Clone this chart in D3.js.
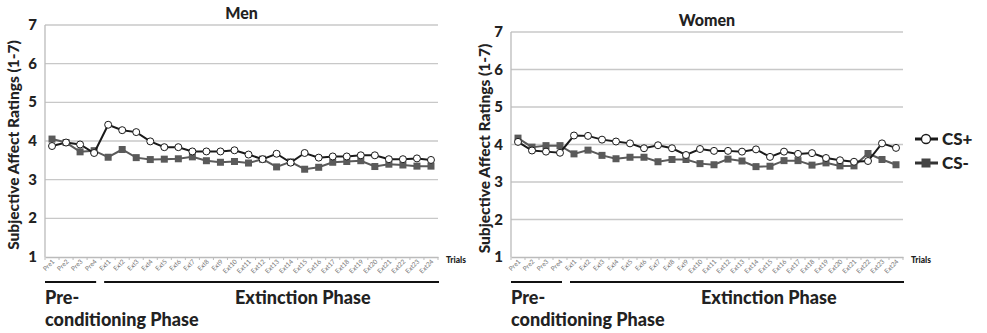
<!DOCTYPE html>
<html><head><meta charset="utf-8">
<script src="https://cdn.jsdelivr.net/npm/d3@7"></script>
<style>body{margin:0;background:#fff;} svg{display:block;} text{font-family:Lato,"Open Sans",sans-serif;}</style>
</head><body>
<svg id="chart" width="987" height="333"></svg>
<script>
const trials = ["Pre1","Pre2","Pre3","Pre4","Ext1","Ext2","Ext3","Ext4","Ext5","Ext6","Ext7","Ext8","Ext9","Ext10","Ext11","Ext12","Ext13","Ext14","Ext15","Ext16","Ext17","Ext18","Ext19","Ext20","Ext21","Ext22","Ext23","Ext24"];
const yTicks = [1,2,3,4,5,6,7];
const menCSplus  = [3.87,3.96,3.91,3.69,4.42,4.28,4.23,3.99,3.84,3.84,3.73,3.73,3.73,3.76,3.65,3.53,3.67,3.44,3.69,3.57,3.60,3.60,3.63,3.63,3.53,3.53,3.55,3.51];
const menCSminus = [4.05,3.96,3.72,3.75,3.58,3.78,3.57,3.52,3.53,3.54,3.59,3.49,3.45,3.47,3.43,3.53,3.33,3.46,3.27,3.32,3.45,3.47,3.49,3.34,3.40,3.38,3.35,3.35];
const womenCSplus  = [4.07,3.84,3.81,3.78,4.24,4.23,4.13,4.08,4.03,3.90,3.98,3.90,3.72,3.88,3.83,3.83,3.81,3.87,3.67,3.81,3.75,3.77,3.64,3.58,3.54,3.56,4.03,3.91];
const womenCSminus = [4.17,3.93,3.97,3.97,3.75,3.85,3.71,3.62,3.66,3.66,3.54,3.60,3.60,3.49,3.46,3.61,3.56,3.41,3.42,3.57,3.57,3.45,3.51,3.43,3.43,3.76,3.60,3.46];
const titles = ["Men","Women"];
const yLabel = "Subjective Affect Ratings (1-7)";
const legendLabels = ["CS+","CS-"];

const svg = d3.select("#chart");
svg.append("rect").attr("width",987).attr("height",333).attr("fill","#fff");

const panels = [
  {title:titles[0], x0:45, x1:438, yTop:25, yBot:257, plus:menCSplus, minus:menCSminus, ylabX:19, tickX:37},
  {title:titles[1], x0:511, x1:903, yTop:32, yBot:257, plus:womenCSplus, minus:womenCSminus, ylabX:490, tickX:503}
];

panels.forEach(p => {
  const g = svg.append("g");
  const x = d3.scaleBand().domain(trials).range([p.x0, p.x1]);
  const y = d3.scaleLinear().domain([1,7]).range([p.yBot, p.yTop]);
  const cx = d => x(d) + x.bandwidth()/2;

  g.selectAll(".grid").data(yTicks.slice(1)).join("line")
    .attr("x1",p.x0).attr("x2",p.x1).attr("y1",d=>y(d)).attr("y2",d=>y(d))
    .attr("stroke","#c8c8c8").attr("stroke-width",1.3);
  g.append("line").attr("x1",p.x0).attr("x2",p.x0).attr("y1",p.yTop).attr("y2",p.yBot)
    .attr("stroke","#bbb").attr("stroke-width",1.3);
  const xa = g.append("g").attr("transform",`translate(0,${p.yBot})`)
    .call(d3.axisBottom(x).tickSize(0).tickFormat(""));
  xa.select(".domain").attr("stroke","#bbb").attr("stroke-width",1.3);
  g.selectAll(".tk").data(trials.concat(["_end"])).join("line")
    .attr("x1",(d,i)=>p.x0 + i*x.step()).attr("x2",(d,i)=>p.x0 + i*x.step())
    .attr("y1",p.yBot).attr("y2",p.yBot+3).attr("stroke","#bbb").attr("stroke-width",1);
  g.selectAll(".xl").data(trials).join("text")
    .attr("transform",d=>`translate(${cx(d)+3},${p.yBot+5}) rotate(-45)`)
    .attr("text-anchor","end").attr("font-size",6.5).attr("fill","#777").text(d=>d);
  g.selectAll(".yl").data(yTicks).join("text")
    .attr("x",p.tickX).attr("y",d=>y(d)+5).attr("text-anchor","end")
    .attr("font-size",15).attr("font-weight",900).attr("fill","#222").text(d=>d);
  g.append("text").attr("transform",`translate(${p.ylabX},${(p.yTop+p.yBot)/2+4}) rotate(-90)`)
    .attr("text-anchor","middle").attr("font-size",15.5).attr("font-weight",900).attr("fill","#222").text(yLabel);
  g.append("text").attr("x",(p.x0+p.x1)/2).attr("y",p.yTop-6).attr("text-anchor","middle")
    .attr("font-size",16).attr("font-weight",900).attr("fill","#222").text(p.title);
  g.append("text").attr("x",p.x1+8).attr("y",p.yBot+6).attr("font-size",8.5).attr("font-weight",900).attr("fill","#222").text("Trials");

  const line = d3.line().x((d,i)=>cx(trials[i])).y(d=>y(d));
  g.append("path").datum(p.minus).attr("d",line).attr("fill","none").attr("stroke","#5a5a5a").attr("stroke-width",2);
  g.selectAll(".sq").data(p.minus).join("rect")
    .attr("x",(d,i)=>cx(trials[i])-3.5).attr("y",d=>y(d)-3.5).attr("width",7).attr("height",7).attr("fill","#5a5a5a");
  g.append("path").datum(p.plus).attr("d",line).attr("fill","none").attr("stroke","#1a1a1a").attr("stroke-width",2);
  g.selectAll(".ci").data(p.plus).join("circle")
    .attr("cx",(d,i)=>cx(trials[i])).attr("cy",d=>y(d)).attr("r",3.5)
    .attr("fill","#fff").attr("stroke","#1a1a1a").attr("stroke-width",1);

  const preEnd = p.x0 + 4*x.step();
  g.append("line").attr("x1",p.x0).attr("x2",preEnd-5).attr("y1",282).attr("y2",282).attr("stroke","#111").attr("stroke-width",2);
  g.append("line").attr("x1",preEnd+3).attr("x2",p.x1+1).attr("y1",282).attr("y2",282).attr("stroke","#111").attr("stroke-width",2);
  g.append("text").attr("x",p.x0).attr("y",304).attr("font-size",18).attr("font-weight",900).attr("fill","#222").text("Pre-");
  g.append("text").attr("x",p.x0).attr("y",326).attr("font-size",18).attr("font-weight",900).attr("fill","#222").text("conditioning Phase");
  g.append("text").attr("x",p.x0+190).attr("y",304).attr("font-size",18).attr("font-weight",900).attr("fill","#222").text("Extinction Phase");
});

const lg = svg.append("g");
lg.append("line").attr("x1",915).attr("x2",938).attr("y1",139).attr("y2",139).attr("stroke","#1a1a1a").attr("stroke-width",3);
lg.append("circle").attr("cx",926).attr("cy",139).attr("r",4.5).attr("fill","#fff").attr("stroke","#1a1a1a").attr("stroke-width",1.3);
lg.append("text").attr("x",942).attr("y",145).attr("font-size",17).attr("font-weight",900).attr("fill","#222").text(legendLabels[0]);
lg.append("line").attr("x1",915).attr("x2",938).attr("y1",163).attr("y2",163).attr("stroke","#333").attr("stroke-width",3);
lg.append("rect").attr("x",921.5).attr("y",158.5).attr("width",9).attr("height",9).attr("fill","#444");
lg.append("text").attr("x",942).attr("y",169).attr("font-size",17).attr("font-weight",900).attr("fill","#222").text(legendLabels[1]);
</script>
</body></html>
